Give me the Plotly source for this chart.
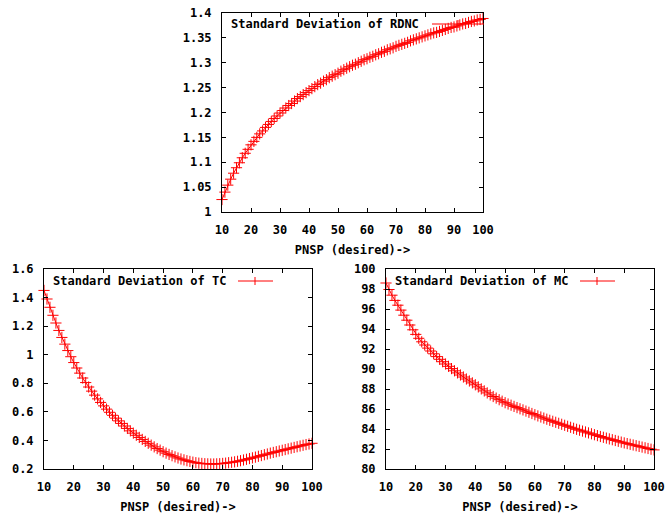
import plotly.graph_objects as go

W, H = 668, 515

# x grid: desired PNSP from 10 to 100
pnsp = list(range(10, 101))

rdnc_sd = [
    1.025, 1.040, 1.054, 1.066, 1.078, 1.089, 1.099, 1.109, 1.118, 1.126,
    1.135, 1.142, 1.150, 1.157, 1.163, 1.170, 1.176, 1.182, 1.188, 1.193,
    1.199, 1.204, 1.209, 1.214, 1.218, 1.223, 1.228, 1.232, 1.236, 1.240,
    1.244, 1.248, 1.252, 1.256, 1.259, 1.263, 1.266, 1.270, 1.273, 1.276,
    1.279, 1.283, 1.286, 1.289, 1.292, 1.295, 1.297, 1.300, 1.303, 1.306,
    1.308, 1.311, 1.313, 1.316, 1.318, 1.321, 1.323, 1.326, 1.328, 1.330,
    1.333, 1.335, 1.337, 1.339, 1.341, 1.344, 1.346, 1.348, 1.350, 1.352,
    1.354, 1.356, 1.358, 1.360, 1.361, 1.363, 1.365, 1.367, 1.369, 1.371,
    1.372, 1.374, 1.376, 1.378, 1.379, 1.381, 1.383, 1.384, 1.386, 1.387,
    1.389,
]

tc_sd = [
    1.450, 1.390, 1.332, 1.276, 1.222, 1.170, 1.121, 1.074, 1.029, 0.986,
    0.945, 0.907, 0.871, 0.837, 0.805, 0.774, 0.745, 0.717, 0.691, 0.666,
    0.642, 0.619, 0.597, 0.576, 0.556, 0.537, 0.519, 0.501, 0.484, 0.467,
    0.451, 0.436, 0.421, 0.407, 0.393, 0.380, 0.367, 0.355, 0.343, 0.332,
    0.321, 0.311, 0.302, 0.293, 0.285, 0.277, 0.270, 0.264, 0.258, 0.253,
    0.248, 0.244, 0.241, 0.239, 0.237, 0.236, 0.235, 0.235, 0.236, 0.237,
    0.239, 0.241, 0.244, 0.247, 0.250, 0.254, 0.258, 0.263, 0.268, 0.273,
    0.278, 0.283, 0.289, 0.294, 0.300, 0.305, 0.311, 0.316, 0.321, 0.326,
    0.331, 0.336, 0.341, 0.346, 0.351, 0.356, 0.361, 0.366, 0.371, 0.375,
    0.380,
]

mc_sd = [
    98.60, 97.95, 97.38, 96.86, 96.38, 95.89, 95.38, 94.88, 94.40, 93.92,
    93.46, 93.07, 92.72, 92.40, 92.09, 91.80, 91.52, 91.24, 90.97, 90.73,
    90.50, 90.27, 90.04, 89.82, 89.61, 89.40, 89.20, 89.00, 88.80, 88.61,
    88.42, 88.21, 88.01, 87.81, 87.61, 87.41, 87.25, 87.09, 86.93, 86.78,
    86.63, 86.50, 86.38, 86.26, 86.14, 86.02, 85.91, 85.79, 85.67, 85.55,
    85.43, 85.31, 85.20, 85.09, 84.98, 84.87, 84.77, 84.67, 84.57, 84.47,
    84.37, 84.27, 84.17, 84.07, 83.97, 83.88, 83.79, 83.70, 83.61, 83.52,
    83.43, 83.34, 83.25, 83.17, 83.09, 83.01, 82.93, 82.85, 82.77, 82.69,
    82.61, 82.54, 82.47, 82.40, 82.33, 82.26, 82.19, 82.12, 82.05, 81.98,
    81.91,
]

x_ticks = [10, 20, 30, 40, 50, 60, 70, 80, 90, 100]
rdnc_ticks = [1, 1.05, 1.1, 1.15, 1.2, 1.25, 1.3, 1.35, 1.4]
rdnc_labels = ["1", "1.05", "1.1", "1.15", "1.2", "1.25", "1.3", "1.35", "1.4"]
tc_ticks = [0.2, 0.4, 0.6, 0.8, 1, 1.2, 1.4, 1.6]
tc_labels = ["0.2", "0.4", "0.6", "0.8", "1", "1.2", "1.4", "1.6"]
mc_ticks = [80, 82, 84, 86, 88, 90, 92, 94, 96, 98, 100]
mc_labels = [str(v) for v in mc_ticks]

x_title = "PNSP (desired)->"
series_names = ["Standard Deviation of RDNC", "Standard Deviation of TC",
                "Standard Deviation of MC"]

RED = "#ff0000"
FONT = dict(family="DejaVu Sans Mono", size=12, color="black", weight="bold")


def px(x):
    return x / W


def py(y):
    return 1 - y / H


fig = go.Figure()

panels = [
    # (values, name, xaxis, yaxis, x-pixel span, y-pixel span, y range, ticks, labels)
    (rdnc_sd, series_names[0], "x", "y", (222, 483), (13, 212), [1, 1.4], rdnc_ticks, rdnc_labels),
    (tc_sd, series_names[1], "x2", "y2", (44, 312), (269, 469), [0.2, 1.6], tc_ticks, tc_labels),
    (mc_sd, series_names[2], "x3", "y3", (386, 654), (269, 469), [80, 100], mc_ticks, mc_labels),
]

layout_axes = {}
for i, (vals, name, xa, ya, (xl, xr), (yt, yb), yr, yt_vals, yt_text) in enumerate(panels):
    fig.add_trace(go.Scatter(
        x=pnsp, y=vals, name=name, xaxis=xa, yaxis=ya,
        mode="lines+markers", cliponaxis=False, showlegend=False,
        line=dict(color=RED, width=1),
        marker=dict(symbol="cross-thin", size=8, line=dict(color=RED, width=1), color=RED),
    ))
    suffix = "" if i == 0 else str(i + 1)
    common = dict(
        showline=True, linecolor="black", linewidth=1, mirror="ticks",
        ticks="inside", ticklen=4, tickcolor="black", tickwidth=1,
        showgrid=False, zeroline=False, tickfont=FONT, automargin=False,
    )
    layout_axes["xaxis" + suffix] = dict(
        common, domain=[px(xl), px(xr)], range=[10, 100],
        tickvals=x_ticks, ticktext=[str(v) for v in x_ticks],
        ticklabelstandoff=7,
        anchor=ya, title=dict(text=x_title, font=FONT, standoff=9),
    )
    layout_axes["yaxis" + suffix] = dict(
        common, domain=[py(yb), py(yt)], range=yr,
        tickvals=yt_vals, ticktext=yt_text, anchor=xa,
        ticklabelstandoff=7,
    )

# key boxes: title text followed by a line sample with one cross
keys = [
    (229, 24, 432, 484, 458),
    (51, 281, 238, 273, 255),
    (393, 281, 580, 615, 597),
]
annotations = []
shapes = []
for (tx, ty, lx0, lx1, cx), name in zip(keys, series_names):
    annotations.append(dict(
        xref="paper", yref="paper", x=px(tx), y=py(ty), text=name,
        showarrow=False, xanchor="left", yanchor="middle", font=FONT,
    ))
    shapes.append(dict(type="line", xref="paper", yref="paper",
                       x0=px(lx0), x1=px(lx1), y0=py(ty), y1=py(ty),
                       line=dict(color=RED, width=1)))
    shapes.append(dict(type="line", xref="paper", yref="paper",
                       x0=px(cx), x1=px(cx), y0=py(ty - 4), y1=py(ty + 4),
                       line=dict(color=RED, width=1)))

fig.update_layout(
    width=W, height=H,
    margin=dict(l=0, r=0, t=0, b=0),
    paper_bgcolor="white", plot_bgcolor="white",
    font=FONT,
    annotations=annotations, shapes=shapes,
    **layout_axes,
)

fig.write_html("out.html")
